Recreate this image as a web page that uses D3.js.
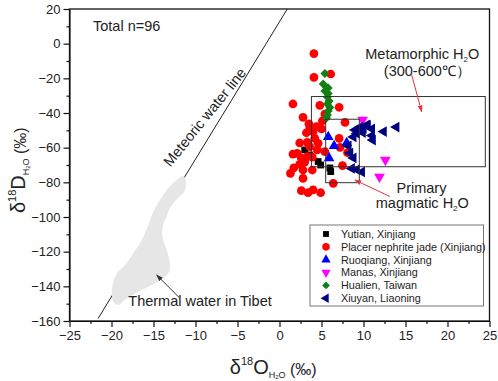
<!DOCTYPE html>
<html>
<head>
<meta charset="utf-8">
<script src="https://cdn.jsdelivr.net/npm/d3@7"></script>
<style>
body { margin: 0; background: #fff; }
text { font-family: "Liberation Sans", Arial, sans-serif; fill: #222; }
</style>
</head>
<body>
<div id="chart"></div>
<script>
// axis ticks
const xTicks = [-25, -20, -15, -10, -5, 0, 5, 10, 15, 20, 25];
const yTicks = [20, 0, -20, -40, -60, -80, -100, -120, -140, -160];

// samples, [d18O, dD]
const yutian = [[3.0,-61.3],[3.6,-64.2],[4.6,-68.0],[4.9,-70.0],[6.0,-71.7],[6.1,-73.8]];
const placer = [[4.1,-5.7],[4.1,-19.4],[6.1,-17.5],[1.6,-34.8],[4.8,-35.6],[7.1,-36.7],[5.4,-40.6],
  [2.8,-42.5],[3.5,-46.3],[4.4,-47.9],[5.0,-49.2],[4.0,-50.8],[3.2,-51.4],[7.8,-45.4],[4.2,-54.6],
  [7.1,-54.6],[3.3,-56.9],[4.6,-57.5],[3.6,-59.4],[7.2,-59.8],[8.1,-62.9],[1.6,-63.7],[2.1,-63.3],
  [3.3,-65.2],[3.9,-65.5],[2.6,-66.1],[2.4,-69.6],[2.8,-72.9],[3.9,-72.9],[7.5,-70.4],[1.3,-74.8],
  [2.8,-77.7],[6.4,-80.6],[2.6,-84.8],[3.4,-86.0],[4.0,-84.4],[4.9,-86.0],[5.4,-62.3],[3.6,-48.7],
  [2.4,-57.3],[4.5,-61.3],[5.1,-44.6],[3.0,-68.3],[1.7,-71.7]];
const ruoqiang = [[5.8,-53.8],[6.5,-59.0],[8.0,-57.3],[5.9,-66.0]];
const manas = [[9.9,-44.0],[12.6,-67.1],[11.9,-76.8]];
const hualien = [[5.4,-17.2],[5.2,-23.3],[5.6,-25.3],[5.8,-25.6],[5.4,-27.3],[5.8,-28.8],[5.7,-30.8],
  [5.9,-33.1],[5.7,-34.8],[6.0,-36.8],[5.8,-38.8],[5.7,-41.2],[5.6,-42.9]];
const xiuyan = [[9.0,-49.8],[9.6,-48.1],[10.0,-48.9],[10.5,-47.2],[11.0,-49.2],[9.2,-51.8],[8.8,-53.8],
  [9.9,-51.3],[11.0,-53.0],[11.1,-55.6],[12.4,-50.7],[13.9,-48.1],[8.2,-59.0],[8.4,-63.1],[8.8,-65.9],
  [8.6,-72.0],[9.2,-72.6],[9.8,-74.0],[10.4,-46.9]];

// fields
const metamorphicBox = [3.8, 24.5, -30.5, -71];
const magmaticBox = [5.5, 9.5, -43.6, -80.2];
const meteoricLine = [[-21.6, -158.6], [0.93, 20]];
const tibetField = [[-11.45,-76.3],[-11.13,-79.8],[-11.37,-85.6],[-12.32,-90.2],[-13.04,-94.8],[-13.43,-99.8],
  [-13.83,-104.0],[-13.93,-111.4],[-13.43,-119.0],[-13.04,-126.5],[-13.15,-131.7],[-13.99,-135.8],
  [-15.42,-139.8],[-16.85,-143.3],[-18.27,-147.3],[-19.23,-150.8],[-19.82,-148.5],[-19.94,-142.1],
  [-19.7,-136.3],[-19.23,-131.7],[-18.39,-127.7],[-17.4,-120.9],[-16.4,-113.3],[-15.62,-104.6],
  [-15.02,-96.9],[-14.23,-90.2],[-13.43,-84.4],[-12.24,-78.7]];

const series = [
  { name: "Yutian, Xinjiang", data: yutian, color: "#000000", type: d3.symbolSquare, size: 46, rot: 0 },
  { name: "Placer nephrite jade (Xinjiang)", data: placer, color: "#ff0000", type: d3.symbolCircle, size: 60, rot: 0 },
  { name: "Ruoqiang, Xinjiang", data: ruoqiang, color: "#0000ff", type: d3.symbolTriangle, size: 50, rot: 0 },
  { name: "Manas, Xinjiang", data: manas, color: "#ff00ff", type: d3.symbolTriangle, size: 50, rot: 180 },
  { name: "Hualien, Taiwan", data: hualien, color: "#138013", type: d3.symbolSquare, size: 40, rot: 45 },
  { name: "Xiuyan, Liaoning", data: xiuyan, color: "#000080", type: d3.symbolTriangle, size: 50, rot: -90 }
];

let margin = { top: 9, right: 8.5, bottom: 60, left: 69.5 },
    width = 498 - margin.left - margin.right,
    height = 381 - margin.top - margin.bottom;

let svg = d3.select("#chart").append("svg")
    .attr("width", 498).attr("height", 381);

let x = d3.scaleLinear().domain([-25, 25]).range([margin.left, margin.left + width]);
let y = d3.scaleLinear().domain([-160, 20]).range([margin.top + height, margin.top]);

// arrow heads
let defs = svg.append("defs");
[["arrRed", "#e8343c"], ["arrBlack", "#333"]].forEach(([id, c]) => {
  defs.append("marker").attr("id", id).attr("viewBox", "0 0 10 10")
    .attr("refX", 9).attr("refY", 5).attr("markerWidth", 7).attr("markerHeight", 7)
    .attr("markerUnits", "userSpaceOnUse").attr("orient", "auto")
    .append("path").attr("d", "M0,1.5L10,5L0,8.5Z").attr("fill", c);
});

// meteoric water line, then the Tibet field over it
svg.append("path")
  .attr("d", d3.line().x(d => x(d[0])).y(d => y(d[1]))(meteoricLine))
  .attr("stroke", "#222").attr("stroke-width", 1).attr("fill", "none");

svg.append("path")
  .attr("d", d3.line().x(d => x(d[0])).y(d => y(d[1])).curve(d3.curveCatmullRomClosed)(tibetField))
  .attr("fill", "#e6e6e6").attr("stroke", "none");

// points
series.forEach(s => {
  svg.append("g").selectAll("path").data(s.data).join("path")
    .attr("d", d3.symbol().type(s.type).size(s.size))
    .attr("transform", d => `translate(${x(d[0])},${y(d[1])}) rotate(${s.rot})`)
    .attr("fill", s.color);
});

// boxes
[metamorphicBox, magmaticBox].forEach(b => {
  svg.append("rect")
    .attr("x", x(b[0])).attr("y", y(b[2]))
    .attr("width", x(b[1]) - x(b[0])).attr("height", y(b[3]) - y(b[2]))
    .attr("fill", "none").attr("stroke", "#333").attr("stroke-width", 1);
});

// axes
svg.append("g").attr("transform", `translate(0,${y(-160)})`)
  .call(d3.axisBottom(x).tickValues(xTicks).tickSize(6).tickSizeOuter(0).tickPadding(4));
svg.append("g").attr("transform", `translate(0,${y(-160)})`)
  .call(d3.axisBottom(x).tickValues(d3.range(-22.5, 25, 5)).tickSize(3).tickFormat(""))
  .select(".domain").remove();
svg.append("g").attr("transform", `translate(${x(-25)},0)`)
  .call(d3.axisLeft(y).tickValues(yTicks).tickSize(6).tickSizeOuter(0).tickPadding(3));
svg.append("g").attr("transform", `translate(${x(-25)},0)`)
  .call(d3.axisLeft(y).tickValues(d3.range(10, -160, -20)).tickSize(3).tickFormat(""))
  .select(".domain").remove();
svg.selectAll(".tick text").style("font-size", "13px").style("font-family", "Liberation Sans, Arial, sans-serif").attr("fill", "#222");
svg.selectAll(".tick line").attr("stroke", "#111").attr("stroke-width", 1.2);

// frame
svg.append("rect")
  .attr("x", x(-25)).attr("y", y(20))
  .attr("width", x(25) - x(-25)).attr("height", y(-160) - y(20))
  .attr("fill", "none").attr("stroke", "#111").attr("stroke-width", 1.3);

// axis titles
let xt = svg.append("text").attr("x", x(-0.75)).attr("y", 374).attr("text-anchor", "middle");
xt.append("tspan").text("δ").style("font-size", "20px");
xt.append("tspan").text("18").style("font-size", "11px").attr("dy", -9);
xt.append("tspan").text("O").style("font-size", "20px").attr("dy", 9);
xt.append("tspan").text("H").style("font-size", "9px").attr("dy", 4);
xt.append("tspan").text("2").style("font-size", "6px").attr("dy", 1);
xt.append("tspan").text("O").style("font-size", "9px").attr("dy", -1);
xt.append("tspan").text(" (‰)").style("font-size", "16px").attr("dy", -3);

let yt = svg.append("text").attr("transform", `translate(25,${y(-73)}) rotate(-90)`).attr("text-anchor", "middle");
yt.append("tspan").text("δ").style("font-size", "20px");
yt.append("tspan").text("18").style("font-size", "11px").attr("dy", -9);
yt.append("tspan").text("D").style("font-size", "20px").attr("dy", 9);
yt.append("tspan").text("H").style("font-size", "9px").attr("dy", 4);
yt.append("tspan").text("2").style("font-size", "6px").attr("dy", 1);
yt.append("tspan").text("O").style("font-size", "9px").attr("dy", -1);
yt.append("tspan").text(" (‰)").style("font-size", "16px").attr("dy", -3);

// annotations
const annoSize = "14.5px";
svg.append("text").attr("x", x(-22.2)).attr("y", y(7.3)).style("font-size", annoSize).text("Total n=96");

svg.append("text")
  .attr("transform", `translate(${x(-13.0)},${y(-71.5)}) rotate(-51)`)
  .style("font-size", annoSize).text("Meteoric water line");

let mt = svg.append("text").attr("x", x(17.0)).attr("y", y(-9)).attr("text-anchor", "middle").style("font-size", annoSize);
mt.append("tspan").text("Metamorphic H");
mt.append("tspan").text("2").style("font-size", "8px").attr("dy", 3);
mt.append("tspan").text("O").attr("dy", -3);
svg.append("text").attr("x", x(17.6)).attr("y", y(-18.7)).attr("text-anchor", "middle")
  .style("font-size", annoSize).text("(300-600℃）");

svg.append("text").attr("x", x(16.9)).attr("y", y(-86.3)).attr("text-anchor", "middle")
  .style("font-size", annoSize).text("Primary");
let pt = svg.append("text").attr("x", x(17.0)).attr("y", y(-95)).attr("text-anchor", "middle").style("font-size", annoSize);
pt.append("tspan").text("magmatic H");
pt.append("tspan").text("2").style("font-size", "8px").attr("dy", 3);
pt.append("tspan").text("O").attr("dy", -3);

svg.append("text").attr("x", x(-18.0)).attr("y", y(-151.3)).style("font-size", annoSize).text("Thermal water in Tibet");

// arrows
const arrows = [
  [[15.74, -18.1], [16.93, -39.3], "#e8343c", "arrRed"],
  [[13.15, -88.2], [8.99, -78.7], "#e8343c", "arrRed"],
  [[-11.85, -146.9], [-14.62, -133.5], "#333", "arrBlack"]
];
arrows.forEach(a => {
  svg.append("line")
    .attr("x1", x(a[0][0])).attr("y1", y(a[0][1]))
    .attr("x2", x(a[1][0])).attr("y2", y(a[1][1]))
    .attr("stroke", a[2]).attr("stroke-width", 1)
    .attr("marker-end", `url(#${a[3]})`);
});

// legend
let lg = svg.append("g");
lg.append("rect").attr("x", 310).attr("y", 225).attr("width", 173.5).attr("height", 81)
  .attr("fill", "#fff").attr("stroke", "#777").attr("stroke-width", 1);
series.forEach((s, i) => {
  let cy = 234 + i * 12.85;
  lg.append("path")
    .attr("d", d3.symbol().type(s.type).size(s.size * 0.75))
    .attr("transform", `translate(326,${cy}) rotate(${s.rot})`)
    .attr("fill", s.color);
  lg.append("text").attr("x", 341).attr("y", cy + 3.8)
    .style("font-size", "10.8px").text(s.name);
});
</script>
</body>
</html>
